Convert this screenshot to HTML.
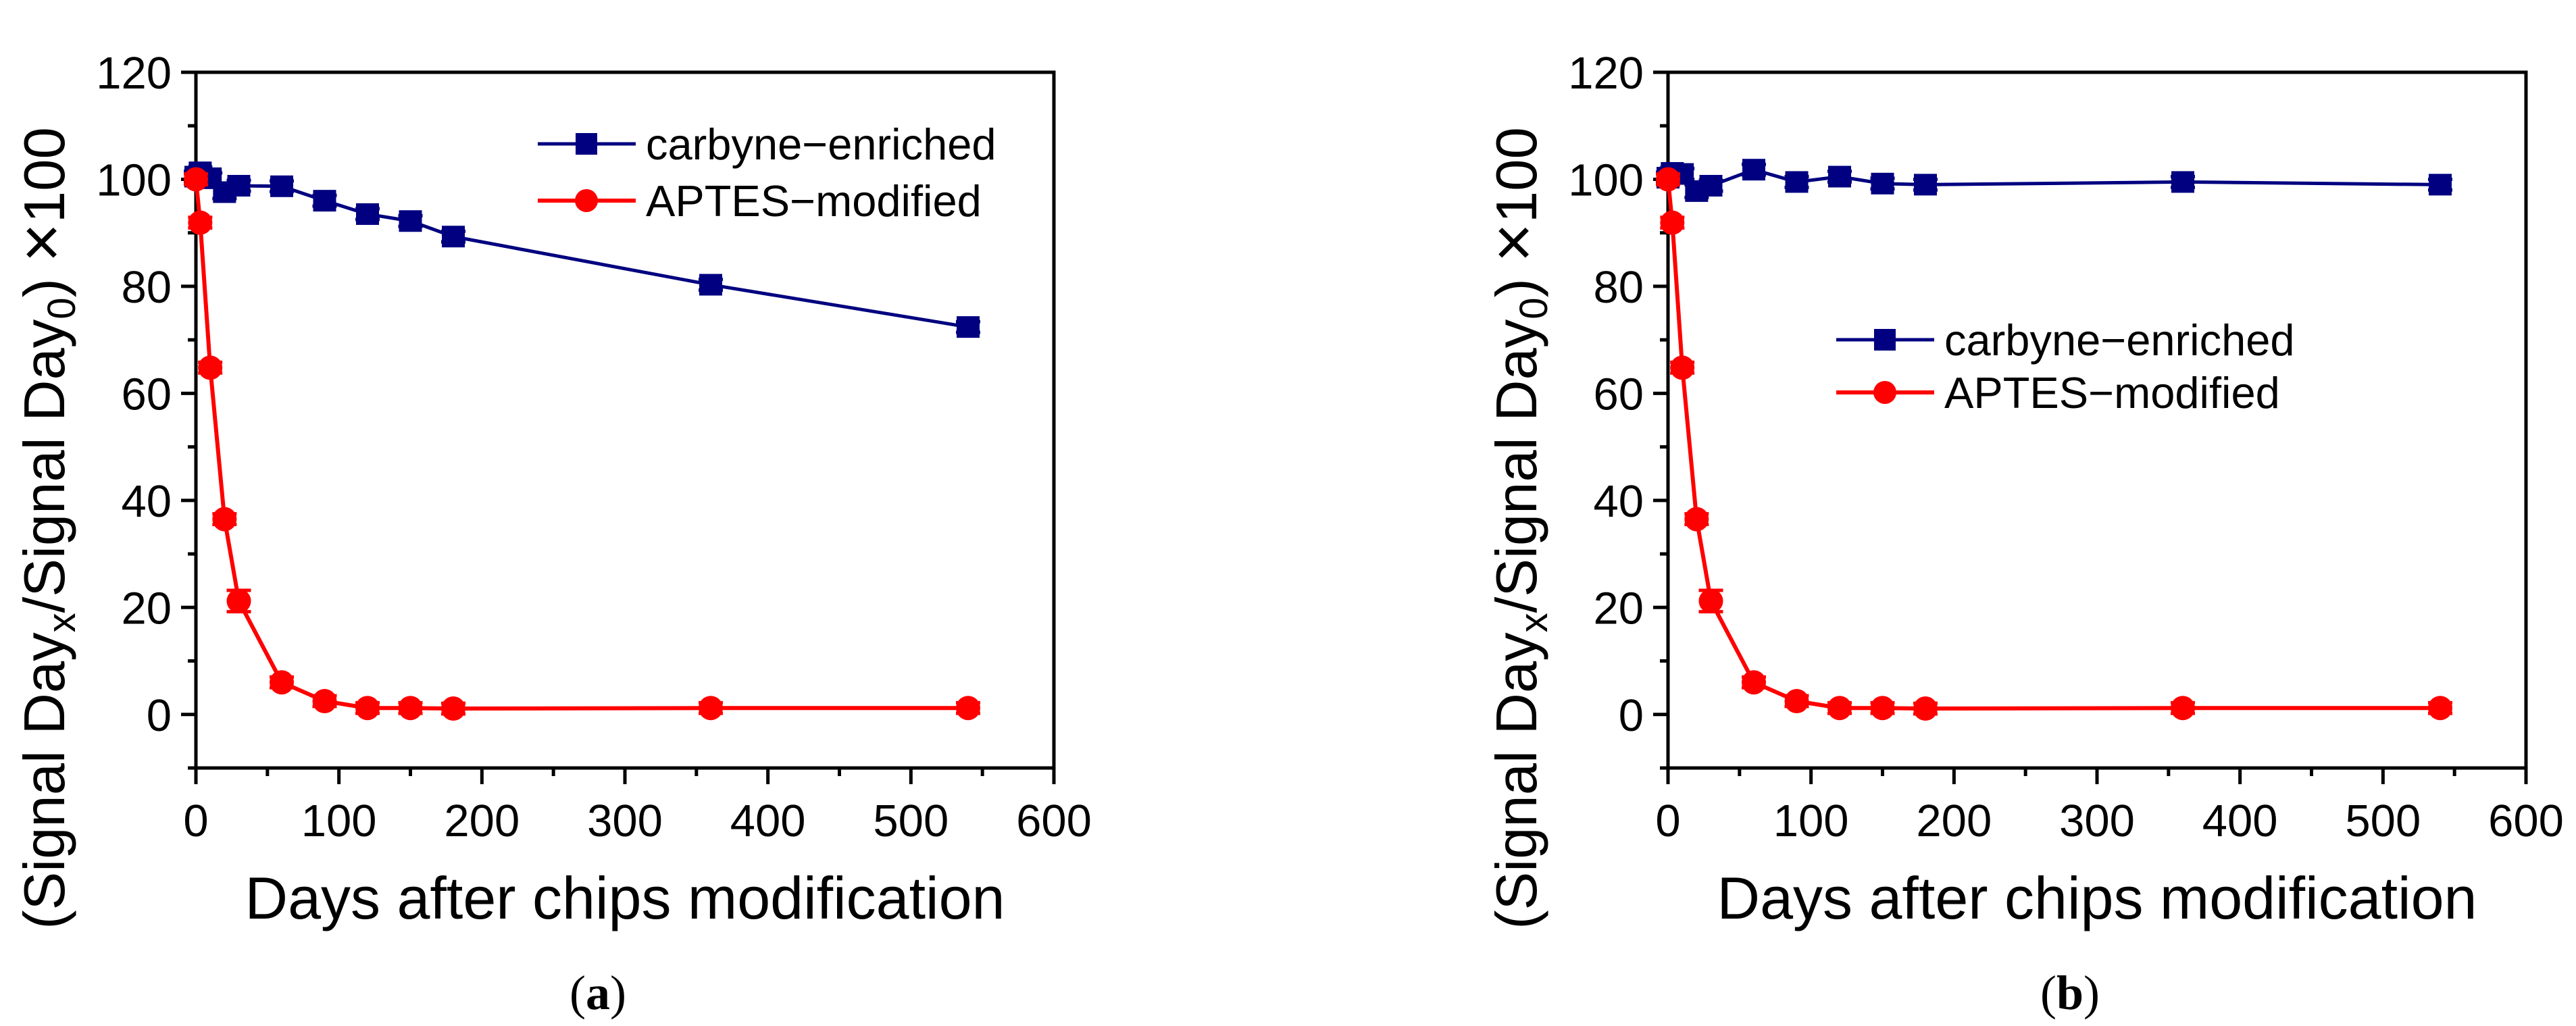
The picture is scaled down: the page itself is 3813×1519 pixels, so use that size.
<!DOCTYPE html>
<html><head><meta charset="utf-8"><style>
html,body{margin:0;padding:0;background:#fff;}
svg{display:block;}
text{font-family:"Liberation Sans",sans-serif;fill:#000;}
</style></head><body>
<svg id="fig" width="3813" height="1519" viewBox="0 0 3813 1519" xmlns="http://www.w3.org/2000/svg"></svg>
<script>
const days = [0, 3, 10, 20, 30, 60, 90, 120, 150, 180, 360, 540];
const carbyneA = [100.5, 101.3, 100.2, 97.6, 98.8, 98.7, 96, 93.5, 92.2, 89.3, 80.3, 72.4];
const aptesA = [100, 91.9, 64.8, 36.5, 21.2, 6, 2.5, 1.2, 1.2, 1.1, 1.2, 1.2];
const carbyneB = [100.3, 101.2, 101, 97.8, 98.8, 101.8, 99.5, 100.5, 99.2, 99, 99.5, 99];
const aptesB = [100, 91.9, 64.8, 36.5, 21.2, 6, 2.5, 1.2, 1.2, 1.1, 1.2, 1.2];
const errCarbyne = [1, 1, 1, 1.2, 1, 1, 1, 1, 1, 1, 1, 1];
const errAptes = [1, 1, 1, 1, 2, 1, 1, 1, 1, 1, 1, 1];
const xTicks = [0, 100, 200, 300, 400, 500, 600];
const yTicks = [0, 20, 40, 60, 80, 100, 120];
const captions = ["(a)", "(b)"];

const NS = "http://www.w3.org/2000/svg";
const svg = document.getElementById("fig");
function mk(tag, attrs, parent) {
  const e = document.createElementNS(NS, tag);
  for (const k in attrs) e.setAttribute(k, attrs[k]);
  (parent || svg).appendChild(e);
  return e;
}
const TOP = 107, BOT = 1137, W = 1270;
const yS = v => BOT - (v + 10) / 130 * (BOT - TOP);

function panel(X0, carbyne, aptes, legend, cap, key) {
  const xS = d => X0 + d / 600 * W;
  const g = mk("g", {});
  
  
  for (let v = -10; v <= 120; v += 10) {
    const major = v % 20 === 0;
    const t = mk("line", {x1: X0 - (major ? 22 : 12), x2: X0, y1: yS(v), y2: yS(v), stroke: "#000", "stroke-width": 5}, g);
    
    
  }
  for (let d = 0; d <= 600; d += 50) {
    const major = d % 100 === 0;
    const t = mk("line", {x1: xS(d), x2: xS(d), y1: BOT, y2: BOT + (major ? 24 : 12), stroke: "#000", "stroke-width": 5}, g);
    
    
  }
  const frame = mk("rect", {x: X0, y: TOP, width: W, height: BOT - TOP, fill: "none", stroke: "#000", "stroke-width": 5}, g);
  
  
  yTicks.forEach(v => {
    const t = mk("text", {x: X0 - 36, y: yS(v) + 24, "text-anchor": "end", "font-size": 67}, g);
    t.textContent = v;
    
    
  });
  xTicks.forEach(v => {
    const t = mk("text", {x: xS(v), y: 1238, "text-anchor": "middle", "font-size": 67}, g);
    t.textContent = v;
    
    
  });
  const xt = mk("text", {x: X0 + W / 2, y: 1360, "text-anchor": "middle", "font-size": 88}, g);
  xt.textContent = "Days after chips modification";
  
  
  const yt = mk("text", {x: 0, y: 0, "text-anchor": "middle", "font-size": 85, transform: `translate(${X0 - 195},${782}) rotate(-90)`}, g);
  
  
  yt.innerHTML = '(Signal Day<tspan font-size="58" dy="16">x</tspan><tspan dy="-16">/Signal Day</tspan><tspan font-size="58" dy="16">0</tspan><tspan dy="-16">) </tspan><tspan font-size="100">×</tspan><tspan>100</tspan>';

  function series(vals, errs, color, shape, name, lw) {
    const sg = mk("g", {}, g);
    
    
    const pts = days.map((d, i) => xS(d) + "," + yS(vals[i])).join(" ");
    const pl = mk("polyline", {points: pts, fill: "none", stroke: color, "stroke-width": lw, "stroke-linejoin": "round"}, sg);
    
    
    days.forEach((d, i) => {
      const cx = xS(d), cy = yS(vals[i]), e = errs[i] * 7.92;
      const eb = mk("path", {d: `M${cx},${cy - e}V${cy + e}M${cx - 18},${cy - e}H${cx + 18}M${cx - 18},${cy + e}H${cx + 18}`, stroke: color, "stroke-width": 5, fill: "none"}, sg);
      
      
      let m;
      if (shape === "sq") m = mk("rect", {x: cx - 17, y: cy - 16, width: 34, height: 32, fill: color}, sg);
      else m = mk("circle", {cx: cx, cy: cy, r: 18, fill: color}, sg);
      
      
    });
  }
  series(carbyne, errCarbyne, "#000080", "sq", "carbyne", 5);
  series(aptes, errAptes, "#ff0000", "ci", "aptes", 6);

  const lg = mk("g", {}, g);
  
  
  const rows = [["carbyne\u2212enriched", "#000080", "sq", 5], ["APTES\u2212modified", "#ff0000", "ci", 6]];
  rows.forEach((r, i) => {
    const y = legend.y + i * legend.dy;
    const ln = mk("line", {x1: legend.x, x2: legend.x + 145, y1: y, y2: y, stroke: r[1], "stroke-width": r[3]}, lg);
    
    
    let m;
    if (r[2] === "sq") m = mk("rect", {x: legend.x + 56, y: y - 16, width: 32, height: 32, fill: r[1]}, lg);
    else m = mk("circle", {cx: legend.x + 72, cy: y, r: 17, fill: r[1]}, lg);
    
    
    const t = mk("text", {x: legend.x + 160, y: y + 23, "font-size": 65}, lg);
    t.textContent = r[0];
    
    
  });
  const c = mk("text", {x: X0 + 595, y: 1494, "text-anchor": "middle", "font-size": 72, style: 'font-family:"Liberation Serif",serif'}, g);
  c.innerHTML = '(<tspan font-weight="bold">' + cap.slice(1, 2) + '</tspan>)';
  
  
}
panel(290, carbyneA, aptesA, {x: 796, y: 213, dy: 84}, captions[0], "a");
panel(2469, carbyneB, aptesB, {x: 2718, y: 503, dy: 78}, captions[1], "b");
</script>
</body></html>
